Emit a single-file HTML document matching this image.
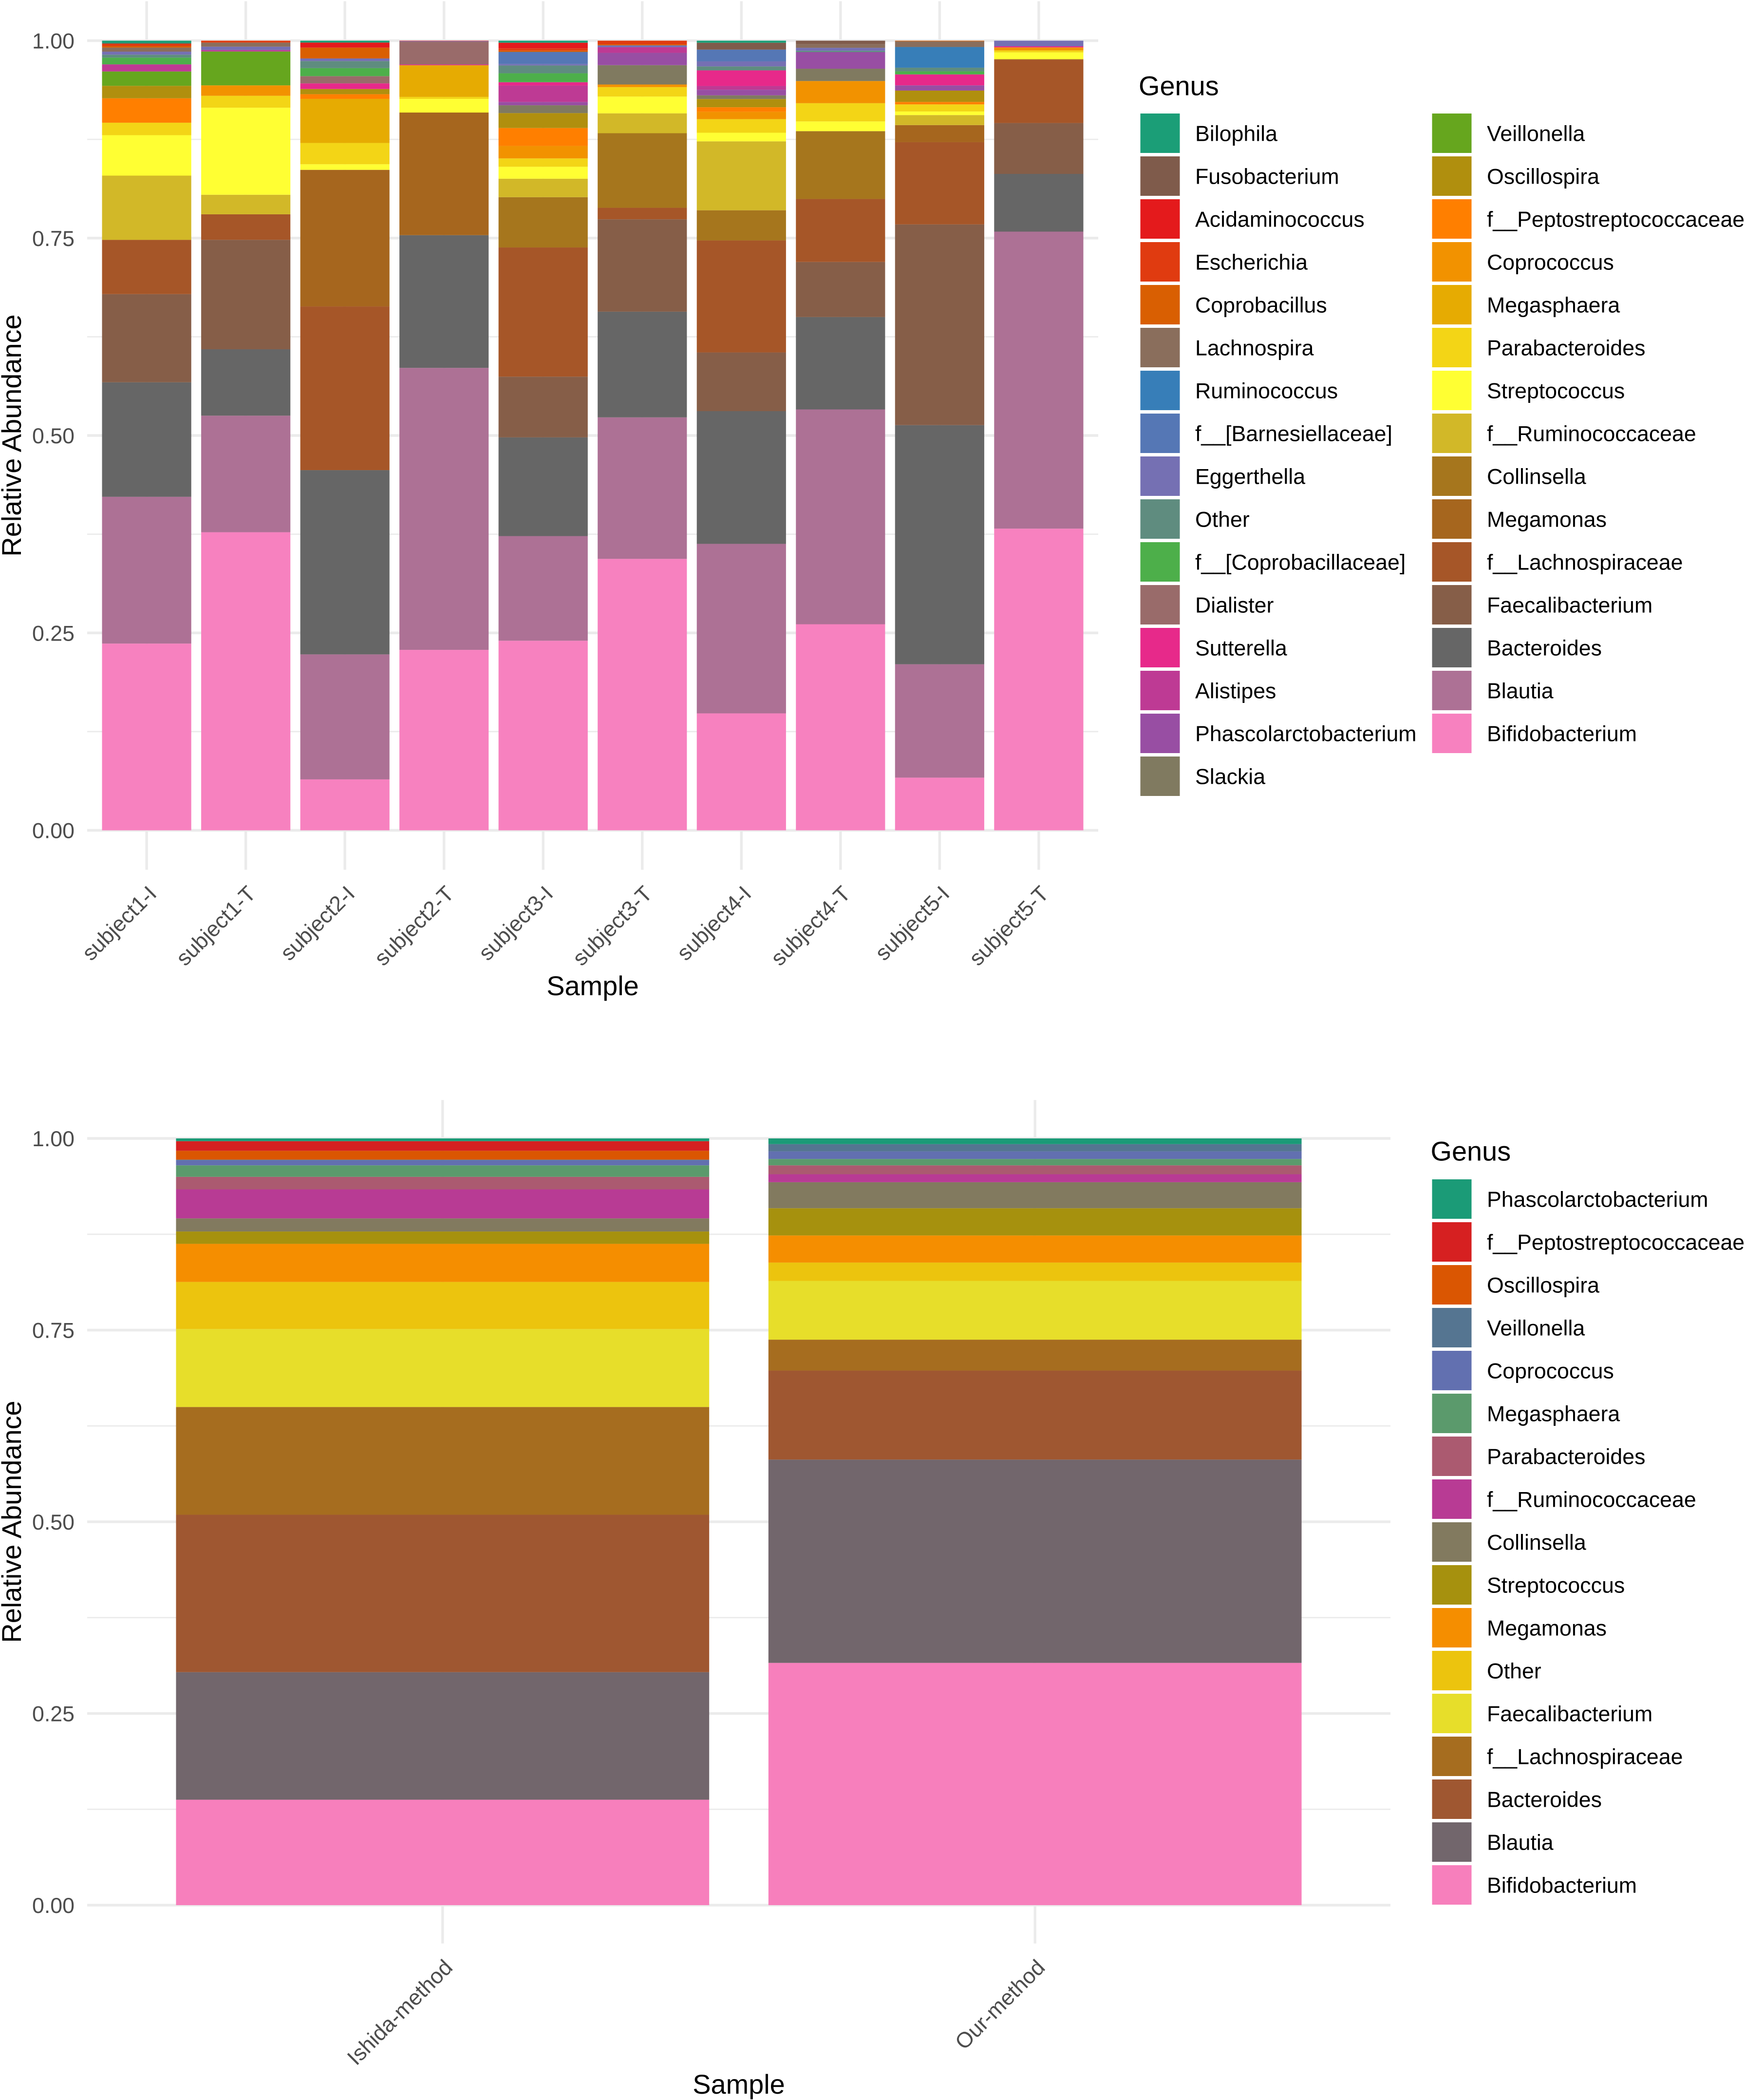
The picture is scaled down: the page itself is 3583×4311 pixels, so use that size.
<!DOCTYPE html>
<html lang="en">
<head>
<meta charset="utf-8">
<title>Relative abundance by genus</title>
<style>
html,body{margin:0;padding:0;background:#fff;width:3583px;height:4311px;overflow:hidden}
svg{display:block;font-family:"Liberation Sans",Arial,sans-serif}
</style>
</head>
<body>
<svg id="figure" xmlns="http://www.w3.org/2000/svg" width="3583" height="4311" viewBox="0 0 3583 4311">
<rect x="0" y="0" width="3583" height="4311" fill="#ffffff"/>
</svg>
<script>
/* ---------- top chart: categories and tick labels ---------- */
const subjectSamples = ['subject1-I','subject1-T','subject2-I','subject2-T','subject3-I','subject3-T','subject4-I','subject4-T','subject5-I','subject5-T'];
const yTickValues = [0, 0.25, 0.5, 0.75, 1];
const yTickLabels = ['0.00','0.25','0.50','0.75','1.00'];
const yMinorValues = [0.125, 0.375, 0.625, 0.875];

/* ---------- top chart: series values (one value per sample) ---------- */
const topBilophila        = [.0031,0,.0024,0,.0026,0,.0026,0,0,0];
const topFusobacterium    = [.0009,0,0,0,0,0,.0087,.0045,0,0];
const topAcidaminococcus  = [0,0,.0064,.0005,.0071,0,0,0,0,0];
const topEscherichia      = [.0028,.0024,0,0,.0028,.0047,0,0,0,0];
const topCoprobacillus    = [.0019,0,.0137,0,.0017,.0012,0,0,.0007,0];
const topLachnospira      = [.0052,.0052,0,0,0,0,0,.0045,.0073,0];
const topRuminococcus     = [0,0,0,0,0,0,0,0,.0262,0];
const topBarnesiellaceae  = [0,0,0,0,.0153,0,.0149,0,0,0];
const topEggerthella      = [.0038,.0042,.0033,.0007,.0019,.0024,.0064,.0038,0,.0071];
const topOther            = [.0038,0,.0090,0,.0099,0,.0050,.0017,.0047,0];
const topCoprobacillaceae = [.0085,0,.0101,0,.0113,0,0,0,.0038,0];
const topDialister        = [0,0,.0092,.0290,0,0,0,0,0,0];
const topSutterella       = [0,0,.0071,.0009,.0042,0,.0198,0,.0139,.0014];
const topAlistipes        = [.0090,.0019,0,0,.0208,.0071,.0047,0,0,0];
const topPhascolarcto     = [0,0,0,0,.0042,.0156,.0071,.0210,.0066,0];
const topSlackia          = [0,0,0,0,.0099,.0245,.0047,.0156,0,0];
const topVeillonella      = [.0182,.0429,0,0,0,0,0,0,0,0];
const topOscillospira     = [.0158,0,.0066,0,.0189,0,.0104,0,.0144,0];
const topPeptostrepto     = [.0309,0,.0059,0,.0227,0,.0057,0,.0031,0];
const topCoprococcus      = [0,.0132,0,0,.0158,.0033,.0094,.0281,0,.0038];
const topMegasphaera      = [0,0,.0559,.0401,0,0,0,0,0,0];
const topParabacteroides  = [.0158,.0151,.0269,.0026,.0106,.0120,.0172,.0231,.0090,.0026];
const topStreptococcus    = [.0512,.1102,.0071,.0172,.0151,.0212,.0109,.0123,.0045,.0085];
const topRuminococcaceae  = [.0814,.0248,0,0,.0234,.0252,.0873,0,.0127,0];
const topCollinsella      = [0,0,0,0,.0637,.0944,.0382,.0859,0,0];
const topMegamonas        = [0,0,.1730,.1553,0,0,0,0,.0217,.0009];
const topLachnospiraceae  = [.0687,.0323,.2073,0,.1636,.0146,.1419,.0798,.1041,.0800];
const topFaecalibacterium = [.1117,.1386,0,0,.0769,.1170,.0743,.0698,.2542,.0644];
const topBacteroides      = [.1450,.0841,.2334,.1681,.1250,.1338,.1681,.1170,.3028,.0731];
const topBlautia          = [.1859,.1476,.1583,.3571,.1325,.1792,.2147,.2721,.1436,.3761];
const topBifidobacterium  = [.2365,.3775,.0645,.2285,.2401,.3437,.1481,.2610,.0667,.3820];

const topGenera = ['Bilophila','Fusobacterium','Acidaminococcus','Escherichia','Coprobacillus','Lachnospira','Ruminococcus','f__[Barnesiellaceae]','Eggerthella','Other','f__[Coprobacillaceae]','Dialister','Sutterella','Alistipes','Phascolarctobacterium','Slackia','Veillonella','Oscillospira','f__Peptostreptococcaceae','Coprococcus','Megasphaera','Parabacteroides','Streptococcus','f__Ruminococcaceae','Collinsella','Megamonas','f__Lachnospiraceae','Faecalibacterium','Bacteroides','Blautia','Bifidobacterium'];
const topColors = ['#1B9E77','#7F5B4B','#E41A1C','#E03B10','#D95F02','#8A6E5C','#377EB8','#5577B5','#7570B3','#5F8C7F','#4DAF4A','#996B6A','#E7298A','#BE3A94','#984EA3','#807A60','#66A61E','#B08F0E','#FF7F00','#F29200','#E6AB02','#F3D516','#FFFF33','#D2B828','#A6761D','#A6661E','#A65628','#865E48','#666666','#AD7195','#F781BF'];
const topSeries = [topBilophila,topFusobacterium,topAcidaminococcus,topEscherichia,topCoprobacillus,topLachnospira,topRuminococcus,topBarnesiellaceae,topEggerthella,topOther,topCoprobacillaceae,topDialister,topSutterella,topAlistipes,topPhascolarcto,topSlackia,topVeillonella,topOscillospira,topPeptostrepto,topCoprococcus,topMegasphaera,topParabacteroides,topStreptococcus,topRuminococcaceae,topCollinsella,topMegamonas,topLachnospiraceae,topFaecalibacterium,topBacteroides,topBlautia,topBifidobacterium];

/* ---------- bottom chart: categories and series values ---------- */
const methodSamples = ['Ishida-method','Our-method'];
const lowPhascolarcto     = [.0036,.0074];
const lowPeptostrepto     = [.0125,0];
const lowOscillospira     = [.0116,0];
const lowVeillonella      = [.0008,.0095];
const lowCoprococcus      = [.0066,.0099];
const lowMegasphaera      = [.0150,.0083];
const lowParabacteroides  = [.0163,.0116];
const lowRuminococcaceae  = [.0379,.0104];
const lowCollinsella      = [.0171,.0339];
const lowStreptococcus    = [.0161,.0356];
const lowMegamonas        = [.0497,.0353];
const lowOther            = [.0614,.0239];
const lowFaecalibacterium = [.1017,.0766];
const lowLachnospiraceae  = [.1405,.0403];
const lowBacteroides      = [.2053,.1161];
const lowBlautia          = [.1664,.2651];
const lowBifidobacterium  = [.1375,.3159];

const lowGenera = ['Phascolarctobacterium','f__Peptostreptococcaceae','Oscillospira','Veillonella','Coprococcus','Megasphaera','Parabacteroides','f__Ruminococcaceae','Collinsella','Streptococcus','Megamonas','Other','Faecalibacterium','f__Lachnospiraceae','Bacteroides','Blautia','Bifidobacterium'];
const lowColors = ['#1B9B77','#D62021','#DA5602','#557591','#6270B0','#5B9A6C','#AB5A70','#B83B94','#827A5F','#A6910E','#F58E00','#ECC40E','#E7DE2A','#A66D1F','#9F5731','#72666C','#F77FBC'];
const lowSeries = [lowPhascolarcto,lowPeptostrepto,lowOscillospira,lowVeillonella,lowCoprococcus,lowMegasphaera,lowParabacteroides,lowRuminococcaceae,lowCollinsella,lowStreptococcus,lowMegamonas,lowOther,lowFaecalibacterium,lowLachnospiraceae,lowBacteroides,lowBlautia,lowBifidobacterium];

const SVG_NS = 'http://www.w3.org/2000/svg';
const figure = document.getElementById('figure');

function make(tag, parent, attrs, text) {
  const el = document.createElementNS(SVG_NS, tag);
  for (const k in attrs) el.setAttribute(k, attrs[k]);
  if (text !== undefined) el.textContent = text;
  parent.appendChild(el);
  return el;
}
function slug(s) {
  return s.toLowerCase().replace(/[^a-z0-9]+/g, '-').replace(/^-+|-+$/g, '');
}

function drawChart(cfg) {
  const group = make('g', figure, {});
  
  

  const n = cfg.samples.length;
  const xStep = (cfg.panelRight - cfg.panelLeft) / (n - 1 + 1.2);
  const xCenter = i => cfg.panelLeft + xStep * (0.6 + i);
  const barWidth = xStep * 0.9;
  const yPos = v => cfg.y0 - v * cfg.yUnit;
  const gridTop = yPos(1.05);
  const gridBottom = yPos(-0.05);

  yMinorValues.forEach(v => {
    const line = make('line', group, {x1: cfg.panelLeft, x2: cfg.panelRight, y1: yPos(v), y2: yPos(v), stroke: '#EBEBEB', 'stroke-width': 2.7});
    
    
  });
  yTickValues.forEach(v => {
    const line = make('line', group, {x1: cfg.panelLeft, x2: cfg.panelRight, y1: yPos(v), y2: yPos(v), stroke: '#EBEBEB', 'stroke-width': 5.4});
    
    
  });
  cfg.samples.forEach((s, i) => {
    const line = make('line', group, {x1: xCenter(i), x2: xCenter(i), y1: gridTop, y2: gridBottom, stroke: '#EBEBEB', 'stroke-width': 5.4});
    
    
  });

  /* stacked bars: the first genus sits at the top of the stack, the last at the bottom */
  cfg.samples.forEach((sample, i) => {
    let total = 0;
    cfg.series.forEach(values => { total += values[i]; });
    let cumulative = 0;
    for (let g = cfg.series.length - 1; g >= 0; g--) {
      const share = cfg.series[g][i] / total;
      if (share <= 0) continue;
      const yTop = yPos(cumulative + share);
      const yBottom = yPos(cumulative);
      const bar = make('rect', group, {x: xCenter(i) - barWidth / 2, y: yTop, width: barWidth, height: yBottom - yTop, fill: cfg.colors[g]});
      
      
      cumulative += share;
    }
  });

  yTickValues.forEach((v, i) => {
    const label = make('text', group, {x: 153, y: yPos(v) + 16, 'text-anchor': 'end', 'font-size': 44.7, fill: '#4D4D4D'}, yTickLabels[i]);
    
    
  });
  cfg.samples.forEach((s, i) => {
    const ex = xCenter(i) + 23;
    const ey = gridBottom + 52;
    const label = make('text', group, {x: ex, y: ey, 'text-anchor': 'end', 'font-size': 44.7, fill: '#4D4D4D', transform: 'rotate(-45 ' + ex + ' ' + ey + ')'}, s);
    
    
  });

  const yMid = yPos(0.5);
  const yTitle = make('text', group, {x: 43, y: yMid, 'text-anchor': 'middle', 'font-size': 55.9, fill: '#000', transform: 'rotate(-90 43 ' + yMid + ')'}, 'Relative Abundance');
  
  

  const xTitle = make('text', group, {x: (cfg.panelLeft + cfg.panelRight) / 2, y: cfg.xTitleY, 'text-anchor': 'middle', 'font-size': 55.9, fill: '#000'}, 'Sample');
  
  

  /* legend */
  const legend = make('g', group, {});
  
  
  const legendTitle = make('text', legend, {x: cfg.legendTitleX, y: cfg.legendTitleY, 'font-size': 55.9, fill: '#000'}, 'Genus');
  
  
  cfg.genera.forEach((genus, g) => {
    const col = g < cfg.legendRows ? 0 : 1;
    const row = col === 0 ? g : g - cfg.legendRows;
    const sx = cfg.legendCols[col];
    const sy = cfg.legendTop + row * 88;
    const swatch = make('rect', legend, {x: sx, y: sy, width: 81, height: 81, fill: cfg.colors[g]});
    
    
    const label = make('text', legend, {x: sx + 112.5, y: sy + 56.5, 'font-size': 44.7, fill: '#000'}, genus);
    
    
  });
}

drawChart({
  name: 'sample-abundance-chart',
  samples: subjectSamples, genera: topGenera, colors: topColors, series: topSeries,
  panelLeft: 179, panelRight: 2255, y0: 1704.5, yUnit: 1621, xTitleY: 2043,
  legendTitleX: 2338, legendTitleY: 195.5, legendCols: [2341.5, 2940.5], legendTop: 233, legendRows: 16
});
drawChart({
  name: 'method-abundance-chart',
  samples: methodSamples, genera: lowGenera, colors: lowColors, series: lowSeries,
  panelLeft: 179, panelRight: 2855, y0: 3911, yUnit: 1574, xTitleY: 4298,
  legendTitleX: 2937.5, legendTitleY: 2382.5, legendCols: [2940.5], legendTop: 2421, legendRows: 17
});
</script>
</body>
</html>
